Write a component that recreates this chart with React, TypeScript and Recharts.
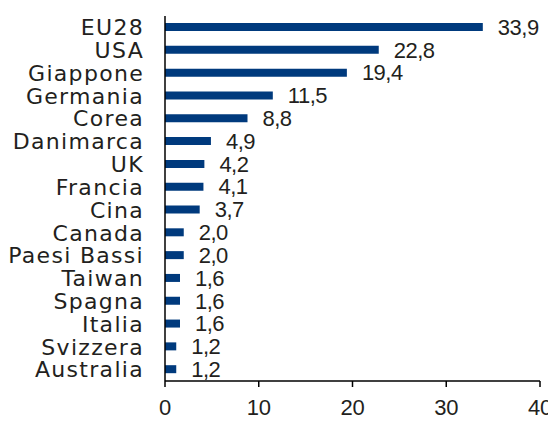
import React from "react";
import { BarChart, Bar, XAxis, YAxis, LabelList } from "recharts";

const countries = ["EU28","USA","Giappone","Germania","Corea","Danimarca","UK","Francia","Cina","Canada","Paesi Bassi","Taiwan","Spagna","Italia","Svizzera","Australia"];
const values = [33.9,22.8,19.4,11.5,8.8,4.9,4.2,4.1,3.7,2.0,2.0,1.6,1.6,1.6,1.2,1.2];
const xTicks = [0,10,20,30,40];

const data = countries.map((name, i) => ({ name, value: values[i] }));

const NAVY = "#003A7D";
const TEXT = "#231F20";

export default function App() {
  return (
    <div style={{ marginLeft: -8, marginTop: -8 }}>
      <BarChart
        width={556}
        height={422}
        data={data}
        layout="vertical"
        margin={{ top: 16, right: 16, bottom: 0, left: 0 }}
        barCategoryGap={0}
      >
        <XAxis
          type="number"
          domain={[0, 40]}
          ticks={xTicks}
          interval={0}
          height={41}
          tickSize={6}
          tickMargin={12}
          axisLine={{ stroke: "#000", strokeWidth: 1.5 }}
          tickLine={{ stroke: "#000", strokeWidth: 1.5 }}
          tick={{ fill: TEXT, fontSize: 22, fontFamily: "Liberation Sans, Arial, sans-serif", letterSpacing: -0.3 }}
        />
        <YAxis
          type="category"
          dataKey="name"
          width={165}
          interval={0}
          tickLine={false}
          tickSize={0}
          tickMargin={21}
          axisLine={{ stroke: "#000", strokeWidth: 1.5 }}
          tick={{ fill: TEXT, fontSize: 22, fontFamily: "DejaVu Sans, sans-serif", letterSpacing: 1.3 }}
        />
        <Bar dataKey="value" fill={NAVY} barSize={8} isAnimationActive={false}>
          <LabelList
            dataKey="value"
            position="right"
            offset={15}
            formatter={(v: number) => v.toFixed(1).replace(".", ",")}
            style={{ fill: TEXT, fontSize: 22, fontFamily: "Liberation Sans, Arial, sans-serif", letterSpacing: -0.5 }}
          />
        </Bar>
      </BarChart>
    </div>
  );
}
